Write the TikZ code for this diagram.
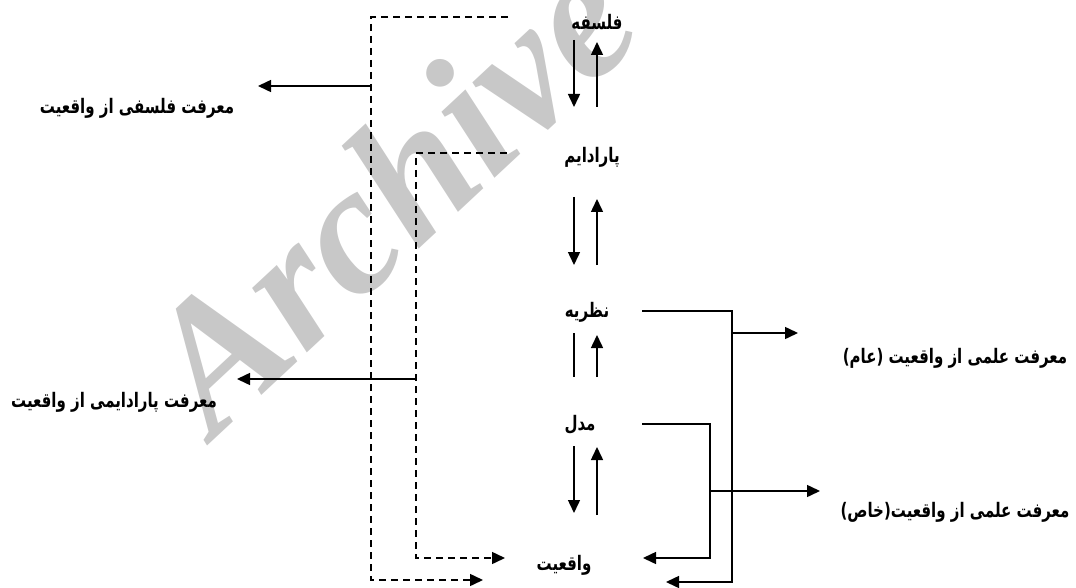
\documentclass[tikz,border=0pt]{standalone}
\usepackage{fontspec}
\usetikzlibrary{arrows.meta}
\newfontfamily\arabicfont[Script=Arabic,FakeStretch=0.75]{DejaVu Sans}
\newfontfamily\wmfont{Liberation Serif}
\TeXXeTstate=1
\definecolor{wm}{RGB}{200,200,200}
\newcommand{\fa}[1]{\arabicfont\bfseries\beginR #1\endR}
\begin{document}
\begin{tikzpicture}[x=1pt,y=-1pt,
  line width=1.5pt,
  >={Triangle[length=13pt,width=12pt]},
  lbl/.style={inner sep=0pt,font=\fontsize{20}{24}\selectfont},
  dsh/.style={dash pattern=on 7pt off 5pt}]
\useasboundingbox (0,0) rectangle (1076,588);
% watermark
\begin{scope}
\clip (0,0) rectangle (1076,588);
\node[rotate=43,anchor=base west,text=wm,inner sep=0pt,font=\wmfont\fontsize{184}{184}\selectfont\bfseries\itshape] (wmk) at (214,440) {Archive};
\end{scope}
% nodes
\node[lbl] (fal) at (597,22) {\fa{فلسفه}};
\node[lbl] (par) at (592,157) {\fa{پارادایم}};
\node[lbl] (naz) at (587,312) {\fa{نظریه}};
\node[lbl] (mod) at (580,425) {\fa{مدل}};
\node[lbl] (vaq) at (564,565) {\fa{واقعیت}};
\node[lbl] (l1) at (137,108) {\fa{معرفت فلسفی از واقعیت}};
\node[lbl] (l2) at (114,402) {\fa{معرفت پارادایمی از واقعیت}};
\node[lbl] (r1) at (955,358) {\fa{معرفت علمی از واقعیت (عام)}};
\node[lbl] (r2) at (955,512) {\fa{معرفت علمی از واقعیت(خاص)}};
% coordinates
\coordinate (o1) at (508,17);
\coordinate (o2) at (371,17);
\coordinate (o3) at (371,580);
\coordinate (o4) at (483,580);
\coordinate (i1) at (507,153);
\coordinate (i2) at (416,153);
\coordinate (i3) at (416,558);
\coordinate (i4) at (505,558);
\coordinate (a1s) at (371,86);
\coordinate (a1e) at (258,86);
\coordinate (a2s) at (416,379);
\coordinate (a2e) at (237,379);
% dashed frames
\draw[dsh,->] (o1) -- (o2) -- (o3) -- (o4);
\draw[dsh,->] (i1) -- (i2) -- (i3) -- (i4);
\draw[->] (a1s) -- (a1e);
\draw[->] (a2s) -- (a2e);
% vertical arrows
\coordinate (d1a) at (574,40);  \coordinate (d1b) at (574,107);
\coordinate (u1a) at (597,107); \coordinate (u1b) at (597,42);
\coordinate (d2a) at (574,197); \coordinate (d2b) at (574,265);
\coordinate (u2a) at (597,265); \coordinate (u2b) at (597,199);
\coordinate (d3a) at (574,333); \coordinate (d3b) at (574,377);
\coordinate (u3a) at (597,377); \coordinate (u3b) at (597,335);
\coordinate (d4a) at (574,446); \coordinate (d4b) at (574,513);
\coordinate (u4a) at (597,515); \coordinate (u4b) at (597,447);
\draw[->] (d1a) -- (d1b);
\draw[->] (u1a) -- (u1b);
\draw[->] (d2a) -- (d2b);
\draw[->] (u2a) -- (u2b);
\draw (d3a) -- (d3b);
\draw[->] (u3a) -- (u3b);
\draw[->] (d4a) -- (d4b);
\draw[->] (u4a) -- (u4b);
% right connectors
\coordinate (n1) at (642,311);
\coordinate (n2) at (732,311);
\coordinate (n3) at (732,582);
\coordinate (n4) at (666,582);
\coordinate (nb) at (732,333);
\coordinate (nt) at (798,333);
\coordinate (m1) at (642,424);
\coordinate (m2) at (710,424);
\coordinate (m3) at (710,558);
\coordinate (m4) at (643,558);
\coordinate (mb) at (710,491);
\coordinate (mt) at (820,491);
\draw[->] (n1) -- (n2) -- (n3) -- (n4);
\draw[->] (nb) -- (nt);
\draw[->] (m1) -- (m2) -- (m3) -- (m4);
\draw[->] (mb) -- (mt);
\end{tikzpicture}
\end{document}
